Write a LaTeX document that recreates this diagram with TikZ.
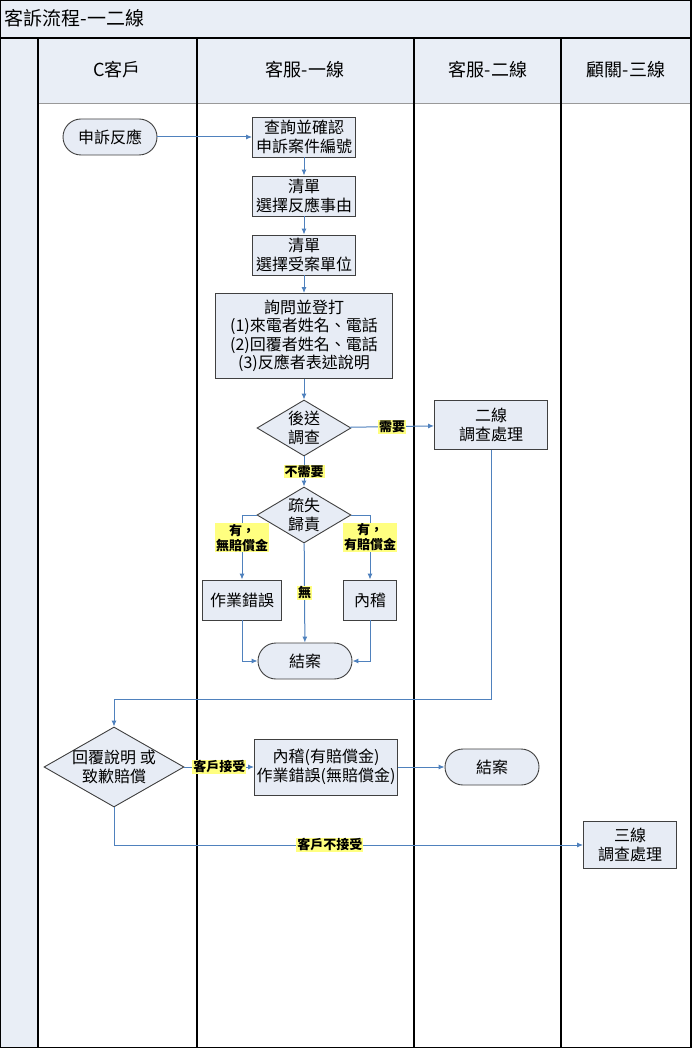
\documentclass[tikz,border=0pt]{standalone}
\usepackage{fontspec}
\setmainfont{Noto Sans CJK TC}
\usetikzlibrary{arrows.meta,shapes.geometric}

\definecolor{lanefill}{RGB}{233,238,246}
\definecolor{boxfill}{RGB}{231,236,245}
\definecolor{flowblue}{RGB}{79,129,189}
\definecolor{tagyellow}{RGB}{255,255,128}

\tikzset{
  box/.style={draw=black!75, line width=0.9pt, fill=boxfill, align=center,
    inner sep=1pt, font=\fontsize{16}{18.5}\selectfont},
  term/.style={box, rounded corners=18pt, minimum width=94pt, minimum height=36pt},
  decide/.style={box, diamond, inner sep=0pt},
  flow/.style={draw=flowblue, line width=1pt, -{Latex[length=6pt,width=5pt]}},
  tag/.style={fill=tagyellow, align=center, inner sep=1pt,
    font=\bfseries\fontsize{13}{15}\selectfont},
  lanehead/.style={font=\fontsize{18}{20}\selectfont}
}

\begin{document}
\begin{tikzpicture}[x=1pt,y=-1pt]
\useasboundingbox (0,0) rectangle (691,1048);
% pool
\fill[lanefill] (0,0) rectangle (691,1048);
\fill[white] (38,103) rectangle (691,1048);
\draw[black!40, line width=0.8pt] (38,103) -- (691,103);
\draw[line width=1.2pt] (38,38) -- (38,1048)
  (197,38) -- (197,1048) (414,38) -- (414,1048) (561,38) -- (561,1048);
\draw[line width=2pt] (0,38) -- (691,38);
\draw[line width=1.2pt] (0,0) rectangle (691,1048);

\node[anchor=west, font=\fontsize{19}{21}\selectfont] (title) at (1,18) {客訴流程-一二線};
\node[lanehead] (hcust) at (117,70) {C客戶};
\node[lanehead] (hone) at (305,70) {客服-一線};
\node[lanehead] (htwo) at (488,70) {客服-二線};
\node[lanehead] (hthree) at (626,70) {顧關-三線};

% first line
\node[term] (start) at (110,137) {申訴反應};
\node[box, minimum width=103pt, minimum height=40pt] (query) at (304,137) {查詢並確認\\申訴案件編號};
\node[box, minimum width=103pt, minimum height=40pt] (reason) at (304,196) {清單\\選擇反應事由};
\node[box, minimum width=103pt, minimum height=40pt] (unit) at (304,255) {清單\\選擇受案單位};
\node[box, minimum width=177pt, minimum height=85pt] (ask) at (304,336) {詢問並登打\\(1)來電者姓名、電話\\(2)回覆者姓名、電話\\(3)反應者表述說明};
\node[decide, minimum width=94pt, minimum height=56pt, aspect=1.7, inner sep=-1pt] (send) at (304,428) {後送\\調查};
\node[decide, minimum width=94pt, minimum height=56pt, aspect=1.7, inner sep=-1pt] (fault) at (304,515) {疏失\\歸責};
\node[box, minimum width=79pt, minimum height=40pt] (err) at (242,600) {作業錯誤};
\node[box, minimum width=53pt, minimum height=40pt] (audit) at (370,600) {內稽};
\node[term] (close) at (305,661) {結案};

% second line
\node[box, minimum width=113pt, minimum height=49pt] (second) at (491,425) {二線\\調查處理};

% reply
\node[decide, minimum width=140pt, minimum height=80pt, aspect=1.75, inner sep=-4pt] (reply) at (114,767) {回覆說明 或\\致歉賠償};
\node[box, minimum width=143pt, minimum height=56pt] (accept) at (326,767) {內稽(有賠償金)\\作業錯誤(無賠償金)};
\node[term] (done) at (492,767) {結案};
\node[box, minimum width=93pt, minimum height=47pt] (third) at (630,845) {三線\\調查處理};

\draw[flow] (start) -- (query);
\draw[flow] (query) -- (reason);
\draw[flow] (reason) -- (unit);
\draw[flow] (unit) -- (ask);
\draw[flow] (ask) -- (send);
\draw[flow] (send) -- node[tag] {需要} (second);
\draw[flow] (send) -- node[tag] {不需要} (fault);
\draw[flow] (fault.west) -| node[tag, pos=0.675] {有，\\無賠償金} (err.north);
\draw[flow] (fault.east) -| node[tag, pos=0.675] {有，\\有賠償金} (audit.north);
\draw[flow] (fault) -- node[tag] {無} (close);
\draw[flow] (err.south) |- (close.west);
\draw[flow] (audit.south) |- (close.east);
\draw[flow] (second.south) -- ++(0,250) -| (reply.north);
\draw[flow] (reply.east) -- node[tag] {客戶接受} (accept.west);
\draw[flow] (accept) -- (done);
\draw[flow] (reply.south) |- node[tag, pos=0.73] {客戶不接受} (third.west);
\end{tikzpicture}
\end{document}
